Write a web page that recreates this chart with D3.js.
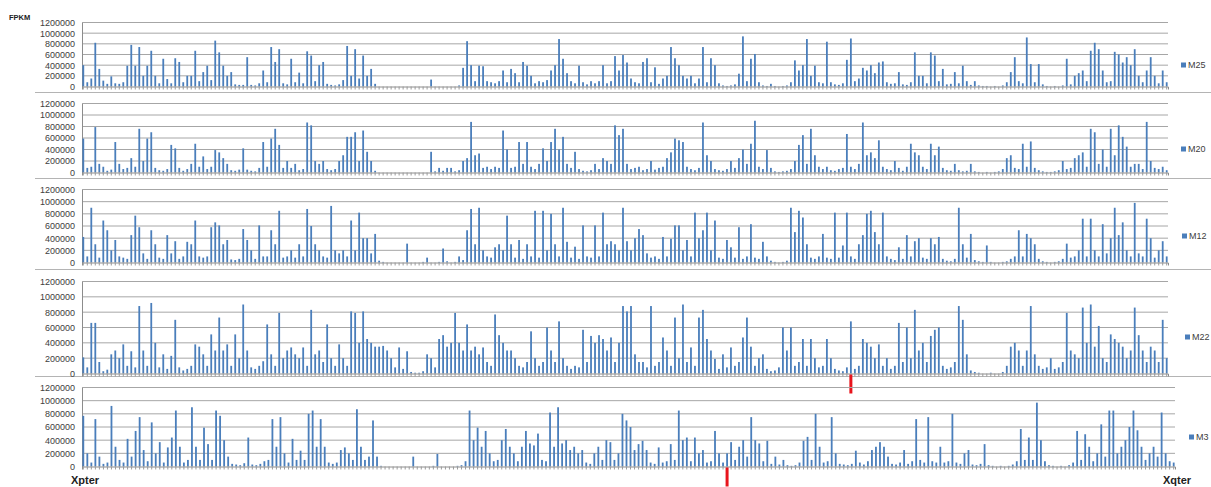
<!DOCTYPE html>
<html>
<head>
<meta charset="utf-8">
<script src="https://cdn.jsdelivr.net/npm/d3@7"></script>
<style>
	body { margin: 0; background: #fff; }
	svg { display: block; font-family: "Liberation Sans", Arial, sans-serif; }
</style>
</head>
<body>
<div id="chart"></div>
<script>
// FPKM along the X chromosome, Xpter -> Xqter, in units of 10 000
const UNIT = 10000;

const m25 = [
	40,8,15,82,33,11,5,19,6,5,8,39,78,39,74,20,39,67,20,6,
	52,14,6,53,46,8,20,20,67,10,27,39,12,86,64,39,20,27,4,3,
	3,55,3,2,6,30,8,74,46,70,6,4,52,8,26,6,66,58,10,40,
	46,5,3,2,4,12,76,20,70,15,58,20,33,5,0,0,0,0,0,0,
	0,0,0,0,0,0,0,13,0,0,0,0,0,0,2,35,85,40,10,39,
	38,10,8,6,10,30,8,33,25,8,46,39,20,6,10,8,12,30,40,89,
	52,25,10,6,39,8,4,10,6,10,40,6,10,57,30,59,45,15,8,6,
	46,53,8,36,5,15,20,74,53,40,20,15,20,6,15,74,8,53,40,6,
	2,1,2,4,24,94,10,52,61,8,2,1,5,1,0,1,2,8,49,30,
	40,89,20,39,8,6,84,8,4,3,6,50,90,10,15,35,30,40,25,45,
	47,8,5,6,27,4,3,8,64,20,20,6,64,58,10,33,4,5,27,6,
	39,10,3,10,2,1,1,0,1,0,2,8,27,55,10,6,92,42,8,42,
	4,1,0,1,0,2,52,4,20,25,30,10,67,82,70,30,8,10,65,60,
	45,55,40,70,20,8,30,55,20,6,30,8
];
const m20 = [
	59,8,10,79,15,10,3,5,53,15,6,8,25,10,76,20,59,70,8,4,
	3,6,48,42,8,3,6,15,50,10,28,6,10,39,35,25,15,4,3,5,
	42,5,3,2,8,53,10,59,76,48,8,20,8,15,4,6,87,82,20,15,
	20,6,4,6,20,30,62,62,70,20,73,36,20,3,0,0,0,0,0,0,
	0,0,0,0,0,0,0,36,2,8,3,8,8,2,4,20,25,88,30,33,
	8,10,6,10,8,73,40,8,10,53,15,53,10,6,15,42,20,53,76,40,
	62,15,8,36,6,3,2,4,15,6,25,20,15,82,65,76,15,6,8,10,
	4,6,20,5,8,10,25,35,59,56,53,10,6,4,8,87,30,20,6,4,
	3,6,20,8,25,40,15,50,90,10,6,39,8,2,1,2,3,6,20,48,
	65,15,76,30,10,6,10,4,3,6,8,67,10,6,15,87,30,35,25,56,
	10,6,4,20,8,3,10,50,35,30,10,6,50,30,45,8,4,3,15,4,
	2,3,15,2,1,0,1,0,1,2,6,25,30,8,6,50,10,54,8,4,
	2,1,1,2,4,20,6,8,25,30,35,10,76,70,15,40,10,76,30,82,
	62,45,10,15,15,6,88,20,8,6,10,4
];
const m12 = [
	42,10,90,30,8,69,53,20,37,10,8,6,45,77,58,15,6,53,30,8,
	6,45,15,35,6,10,34,30,69,10,8,10,58,66,61,30,37,5,4,6,
	55,37,20,6,61,10,10,53,30,85,8,10,20,8,30,10,88,60,30,20,
	10,8,93,20,15,20,10,69,20,82,40,40,15,47,3,1,0,0,0,0,
	0,31,0,0,0,1,8,0,0,1,23,2,0,1,10,4,53,88,30,90,
	20,10,8,25,30,20,77,30,8,37,6,30,10,85,8,85,20,80,30,10,
	90,34,8,26,6,61,10,8,61,10,82,30,35,30,20,90,35,20,40,55,
	45,15,8,10,6,42,10,39,61,61,20,37,10,82,40,53,82,20,69,8,
	6,37,25,8,58,6,10,63,8,6,34,10,3,1,0,1,3,90,50,85,
	74,30,8,6,10,47,8,6,82,8,28,82,10,6,30,45,80,85,50,30,
	82,10,6,4,25,6,45,10,35,40,8,6,40,30,42,6,3,2,6,90,
	30,8,47,4,2,1,28,1,0,0,1,2,6,10,53,10,47,40,30,6,
	2,1,0,1,2,6,31,8,10,20,72,10,72,20,10,63,15,40,90,45,
	66,20,10,98,15,10,72,40,8,20,35,10
];
const m22 = [
	21,8,66,66,15,3,5,25,30,20,38,10,29,8,88,30,10,92,40,8,
	25,6,23,70,8,4,6,10,38,35,25,10,51,30,73,30,38,10,51,20,
	90,30,8,6,10,16,64,25,10,79,20,30,34,25,20,34,10,83,25,30,
	15,64,20,10,38,20,10,81,79,40,81,45,40,35,35,36,30,20,8,34,
	6,29,2,1,1,3,25,20,8,45,50,35,40,79,40,30,64,30,35,25,
	34,15,10,77,50,40,30,30,20,10,8,15,55,20,10,15,60,30,15,68,
	20,10,6,10,8,57,15,49,40,50,45,30,47,15,40,88,81,88,25,15,
	15,8,88,10,15,47,30,10,73,20,90,15,34,10,73,83,45,30,19,6,
	25,8,34,10,15,47,73,35,10,20,25,6,3,4,8,60,30,60,10,15,
	45,10,45,20,8,10,45,20,6,4,3,8,68,6,10,45,40,35,20,38,
	10,20,6,10,66,15,60,20,83,30,40,15,49,57,60,10,6,8,15,88,
	70,25,4,2,1,0,0,1,0,0,2,10,35,40,30,10,30,88,25,10,
	6,8,20,6,8,15,79,30,25,20,86,40,90,35,62,20,15,51,45,40,
	35,20,30,86,50,30,15,35,30,15,70,20
];
const m3 = [
	77,20,6,72,15,4,6,92,30,10,6,42,15,54,75,25,8,67,20,37,
	6,29,44,85,30,6,10,90,30,10,59,34,10,85,77,40,15,4,3,2,
	5,44,3,2,4,8,10,72,30,75,20,6,42,10,24,10,80,85,30,72,
	30,6,4,6,25,29,20,10,87,30,10,15,70,15,1,0,0,0,0,0,
	0,0,15,0,0,0,0,1,19,0,0,0,0,1,2,8,85,40,59,30,
	54,20,8,10,40,57,30,20,8,30,54,35,32,50,10,8,82,30,90,35,
	40,25,30,20,25,6,4,20,30,10,40,37,10,20,80,70,60,25,34,39,
	25,6,4,29,6,8,34,10,85,40,44,8,44,20,25,6,8,54,20,6,
	20,37,10,30,40,15,75,40,35,8,39,4,15,3,10,2,1,2,6,39,
	45,10,80,30,6,8,75,20,4,3,2,4,24,6,3,8,25,30,37,30,
	15,4,3,6,25,4,8,72,10,6,75,8,6,30,6,8,80,6,4,20,
	25,3,2,4,34,2,1,0,1,0,1,3,8,57,10,44,10,97,40,8,
	2,1,0,1,0,2,6,54,10,49,30,8,20,64,15,85,85,20,30,40,
	60,85,55,30,10,20,30,15,82,20,8,6
];

const seriesNames = ["M25", "M20", "M12", "M22", "M3"];
const seriesValues = [m25, m20, m12, m22, m3];
const yTicks = [0, 200000, 400000, 600000, 800000, 1000000, 1200000];
// red marks under the M22 and M3 panels (category index)
const markSeries = ["M22", "M3"];
const markIndex = [192, 160];

const width = 1211;
const height = 487;
const barColor = "#4a7ebb";
const plotLeft = 82;

// layout of the five stacked panels
const layout = [
	{ top: 22.5, bottom: 86.5, right: 1168, legendX: 1181, legendY: 66 },
	{ top: 103.5, bottom: 172.5, right: 1168, legendX: 1181, legendY: 150 },
	{ top: 189.5, bottom: 262.5, right: 1168, legendX: 1182, legendY: 237 },
	{ top: 281.5, bottom: 373.5, right: 1168, legendX: 1185, legendY: 338 },
	{ top: 387.5, bottom: 466.5, right: 1175, legendX: 1189, legendY: 438 }
];
const separators = [92.5, 178.5, 269.5, 376.5];

const svg = d3.select("#chart")
	.append("svg")
	.attr("width", width)
	.attr("height", height);

svg.selectAll("line.sep")
	.data(separators)
	.join("line")
	.attr("class", "sep")
	.attr("x1", 35).attr("x2", width)
	.attr("y1", d => d).attr("y2", d => d)
	.attr("stroke", "#b4b4b4");

seriesNames.forEach((name, k) => {
	const values = seriesValues[k];
	const p = layout[k];
	const g = svg.append("g");

	const x = d3.scaleBand()
		.domain(d3.range(values.length))
		.range([plotLeft, p.right])
		.paddingInner(0.55)
		.paddingOuter(0.1);
	const y = d3.scaleLinear()
		.domain([0, 1200000])
		.range([p.bottom, p.top]);

	// gridlines
	g.selectAll("line.grid")
		.data(yTicks.slice(1))
		.join("line")
		.attr("x1", plotLeft).attr("x2", p.right)
		.attr("y1", d => y(d)).attr("y2", d => y(d))
		.attr("stroke", "#a6a6a6");

	// y axis
	const yAxis = d3.axisLeft(y)
		.tickValues(yTicks)
		.tickSize(0)
		.tickPadding(7)
		.tickFormat(d3.format("d"));
	g.append("g")
		.attr("transform", "translate(" + plotLeft + ",0)")
		.call(yAxis)
		.call(a => a.select(".domain").attr("stroke", "#8c8c8c"))
		.call(a => a.selectAll("text").attr("fill", "#404040").style("font-size", "9px"));

	// bars
	g.selectAll("rect.bar")
		.data(values)
		.join("rect")
		.attr("x", (d, i) => x(i))
		.attr("width", x.bandwidth())
		.attr("y", d => y(d * UNIT))
		.attr("height", d => p.bottom - y(d * UNIT))
		.attr("fill", barColor);

	// category axis with dense ticks
	const xAxis = d3.axisBottom(x)
		.tickSize(3)
		.tickFormat("");
	g.append("g")
		.attr("transform", "translate(0," + p.bottom + ")")
		.call(xAxis)
		.call(a => a.select(".domain").attr("stroke", "#8c8c8c"))
		.call(a => a.selectAll(".tick line").attr("stroke", "#9a9a9a"));

	// legend
	g.append("rect")
		.attr("x", p.legendX).attr("y", p.legendY - 3.5)
		.attr("width", 5).attr("height", 5)
		.attr("fill", barColor);
	g.append("text")
		.attr("x", p.legendX + 7).attr("y", p.legendY + 1.5)
		.attr("fill", "#404040")
		.style("font-size", "9px")
		.text(name);

	// red position mark
	const m = markSeries.indexOf(name);
	if (m >= 0) {
		const cx = x(markIndex[m]) + x.bandwidth() / 2;
		g.append("line")
			.attr("x1", cx).attr("x2", cx)
			.attr("y1", p.bottom + 1).attr("y2", p.bottom + 20)
			.attr("stroke", "#e8141c")
			.attr("stroke-width", 3);
	}
});

svg.append("text")
	.attr("x", 9).attr("y", 20)
	.style("font-size", "7.5px").style("font-weight", "bold")
	.attr("fill", "#222")
	.text("FPKM");
svg.append("text")
	.attr("x", 71).attr("y", 484)
	.style("font-size", "11px").style("font-weight", "bold")
	.attr("fill", "#222")
	.text("Xpter");
svg.append("text")
	.attr("x", 1163).attr("y", 484)
	.style("font-size", "11px").style("font-weight", "bold")
	.attr("fill", "#222")
	.text("Xqter");
</script>
</body>
</html>
